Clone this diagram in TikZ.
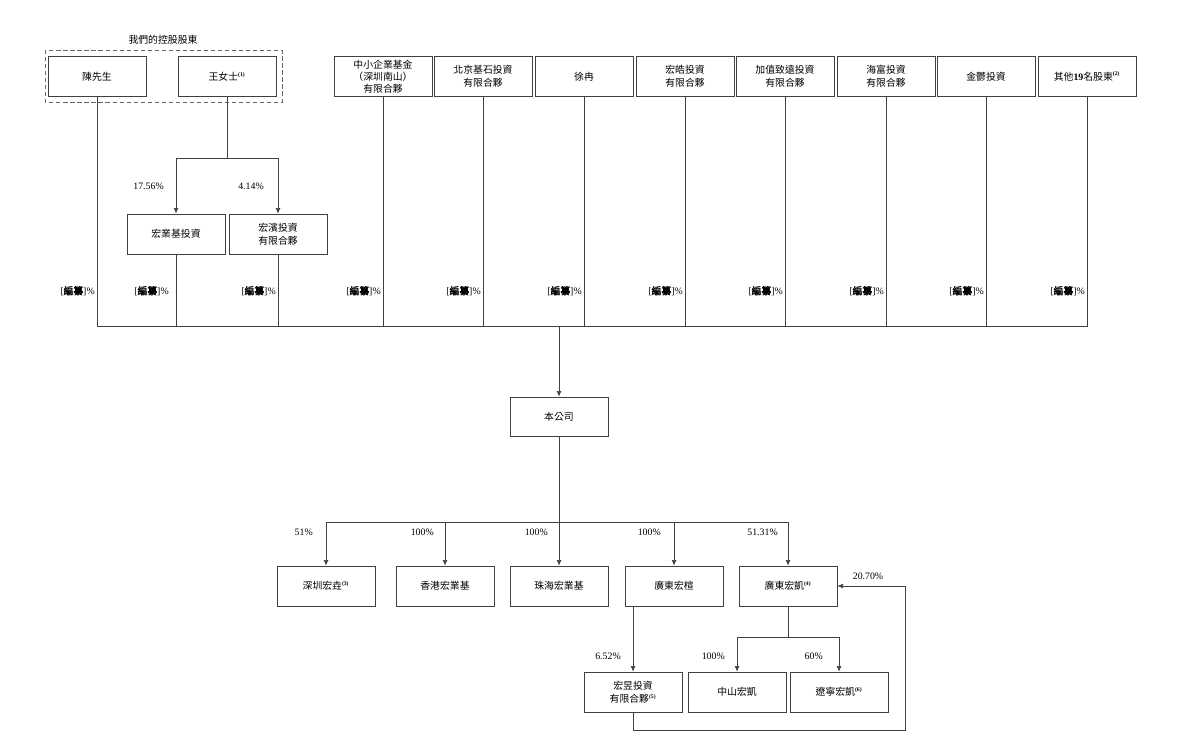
\documentclass[tikz,border=0pt]{standalone}
\usepackage{fontspec}
\setmainfont{Liberation Serif}
\newfontfamily\cjk[AutoFakeBold=1.5]{Noto Sans CJK TC}
\usetikzlibrary{arrows.meta}
\newcommand{\fnote}[1]{\textsuperscript{\rmfamily\bfseries\fontsize{4}{4}\selectfont(#1)}}
\newcommand{\redact}{{\rmfamily[}{\bfseries 編纂}{\rmfamily]\%}}

\begin{document}
\begin{tikzpicture}[x=0.025cm,y=-0.025cm]
\tikzstyle{entity}=[draw=black!75, line width=0.5pt, minimum width=2.45cm,
  minimum height=1cm, inner sep=1pt, align=center,
  font=\cjk\fontsize{7}{9.5}\selectfont]
\tikzstyle{pct}=[anchor=east, inner sep=0pt, font=\rmfamily\fontsize{7}{8}\selectfont]
\tikzstyle{pending}=[pct, font=\cjk\fontsize{7}{8}\selectfont]
\tikzstyle{link}=[draw=black!75, line width=0.5pt]
\tikzstyle{own}=[link, -{Latex[length=4pt,width=3.5pt]}]
\useasboundingbox (0,0) rectangle (1182,740);

% controlling shareholders
\draw[black!60, line width=0.5pt, dash pattern=on 3pt off 2pt] (45,50) rectangle (282,102);
\node[font=\cjk\fontsize{7}{8}\selectfont] (title) at (163,40) {我們的控股股東};
\node[entity] (chen) at (97,76.5) {陳先生};
\node[entity] (wang) at (227,76.5) {王女士\fnote{1}};

% other shareholders
\node[entity, font=\cjk\fontsize{7}{8.6}\selectfont] (zx) at (383,76.5) {中小企業基金\\（深圳南山）\\有限合夥};
\node[entity] (bj) at (483,76.5) {北京基石投資\\有限合夥};
\node[entity] (xr) at (584,76.5) {徐冉};
\node[entity] (hh) at (685,76.5) {宏皓投資\\有限合夥};
\node[entity] (jz) at (785,76.5) {加值致遠投資\\有限合夥};
\node[entity] (hf) at (886,76.5) {海富投資\\有限合夥};
\node[entity] (jy) at (986,76.5) {金鬱投資};
\node[entity] (qt) at (1087,76.5) {其他{\rmfamily\bfseries 19}名股東\fnote{2}};

% holding vehicles of Ms Wang
\node[entity] (hyj) at (176,234) {宏業基投資};
\node[entity] (hb) at (278,234) {宏濱投資\\有限合夥};
\coordinate (wsplit) at (227,158);
\draw[link] (wang) -- (wsplit);
\draw[own] (wsplit) -| (hyj);
\draw[own] (wsplit) -| (hb);
\node[pct] (p1) at (164,186) {17.56\%};
\node[pct] (p2) at (264,186) {4.14\%};

% the company
\node[entity, minimum height=0.975cm] (bgs) at (559,416.5) {本公司};

% shareholder bus
\coordinate (busL) at (97,326);
\coordinate (busR) at (1087,326);
\draw[link] (chen) -- (busL) -- (busR) -- (qt);
\draw[link] (hyj) -- (hyj |- busL);
\draw[link] (hb) -- (hb |- busL);
\draw[link] (zx) -- (zx |- busL);
\draw[link] (bj) -- (bj |- busL);
\draw[link] (xr) -- (xr |- busL);
\draw[link] (hh) -- (hh |- busL);
\draw[link] (jz) -- (jz |- busL);
\draw[link] (hf) -- (hf |- busL);
\draw[link] (jy) -- (jy |- busL);
\draw[own] (busL -| bgs) -- (bgs);

\node[pending] (r1) at (95,291) {\redact};
\node[pending] (r2) at (169,291) {\redact};
\node[pending] (r3) at (276,291) {\redact};
\node[pending] (r4) at (381,291) {\redact};
\node[pending] (r5) at (481,291) {\redact};
\node[pending] (r6) at (582,291) {\redact};
\node[pending] (r7) at (683,291) {\redact};
\node[pending] (r8) at (783,291) {\redact};
\node[pending] (r9) at (884,291) {\redact};
\node[pending] (r10) at (984,291) {\redact};
\node[pending] (r11) at (1085,291) {\redact};

% subsidiaries
\node[entity] (sz) at (326,586) {深圳宏垚\fnote{3}};
\node[entity] (hk) at (445,586) {香港宏業基};
\node[entity] (zh) at (559,586) {珠海宏業基};
\node[entity] (gx) at (674,586) {廣東宏楦};
\node[entity] (gk) at (788,586) {廣東宏凱\fnote{4}};
\coordinate (csplit) at (559,522);
\draw[link] (bgs) -- (csplit);
\draw[own] (csplit) -| (sz);
\draw[own] (csplit) -| (hk);
\draw[own] (csplit) -- (zh);
\draw[own] (csplit) -| (gx);
\draw[own] (csplit) -| (gk);
\node[pct] (p3) at (313,532) {51\%};
\node[pct] (p4) at (434,532) {100\%};
\node[pct] (p5) at (548,532) {100\%};
\node[pct] (p6) at (661,532) {100\%};
\node[pct] (p7) at (778,532) {51.31\%};

% second level
\node[entity] (hy) at (633,692) {宏昱投資\\有限合夥\fnote{5}};
\node[entity] (zs) at (737,692) {中山宏凱};
\node[entity] (ln) at (839,692) {遼寧宏凱\fnote{6}};
\draw[own] (gx.south -| hy) -- (hy);
\coordinate (ksplit) at (788,637);
\draw[link] (gk) -- (ksplit);
\draw[own] (ksplit) -| (zs);
\draw[own] (ksplit) -| (ln);
\node[pct] (p8) at (621,656) {6.52\%};
\node[pct] (p9) at (725,656) {100\%};
\node[pct] (p10) at (823,656) {60\%};

% back to Guangdong Hongkai
\coordinate (back) at (905,730);
\draw[own] (hy) |- (back) |- (gk);
\node[pct, anchor=center] (p11) at (868,576) {20.70\%};
\end{tikzpicture}
\end{document}
